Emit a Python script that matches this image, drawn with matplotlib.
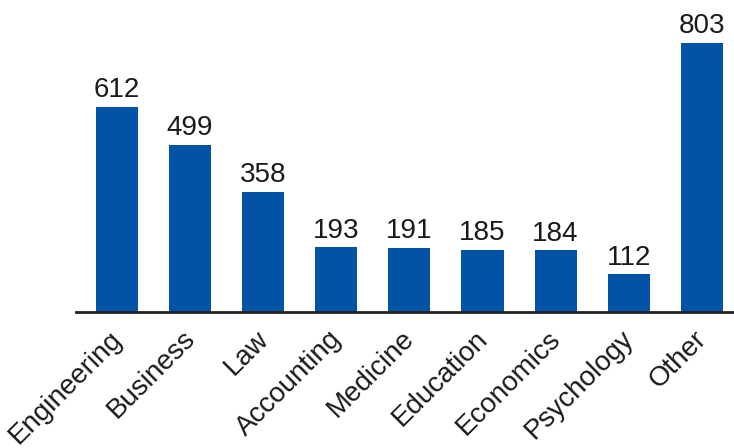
import matplotlib
matplotlib.use("Agg")
import matplotlib.pyplot as plt
import matplotlib.transforms as mtransforms

fields = ["Engineering", "Business", "Law", "Accounting", "Medicine",
          "Education", "Economics", "Psychology", "Other"]
counts = [612, 499, 358, 193, 191, 185, 184, 112, 803]

BAR_COLOR = "#0253a5"
TEXT_COLOR = "#1a1a1a"

plt.rcParams["font.family"] = ["Liberation Sans", "DejaVu Sans"]

fig = plt.figure(figsize=(7.34, 4.48), dpi=100)
ax = fig.add_axes([76 / 734, 136 / 448, 1 - 76 / 734, 1 - 136 / 448])

x = range(len(fields))
bars = ax.bar(x, counts, width=0.575, color=BAR_COLOR, zorder=2)

# value labels above each bar
for rect, val in zip(bars, counts):
    ax.annotate(str(val), (rect.get_x() + rect.get_width() / 2, val),
                xytext=(0, 7), textcoords="offset points",
                ha="center", va="baseline", fontsize=20, color=TEXT_COLOR)

ax.set_xlim(-0.56, 8.44)
ax.set_ylim(0, 931)

ax.set_xticks(list(x))
ax.set_xticklabels(fields, rotation=45, ha="right", rotation_mode="anchor",
                   fontsize=20, color=TEXT_COLOR)
ax.tick_params(axis="x", length=0, pad=12)
ax.set_yticks([])

# nudge the slanted labels a little left and up
shift = mtransforms.ScaledTranslation(-0.08, 0.03, fig.dpi_scale_trans)
for lbl in ax.get_xticklabels():
    lbl.set_transform(lbl.get_transform() + shift)

for side in ["top", "right", "left"]:
    ax.spines[side].set_visible(False)
ax.spines["bottom"].set_linewidth(2)
ax.spines["bottom"].set_color("#222222")

fig.savefig("out.png", dpi=100)
